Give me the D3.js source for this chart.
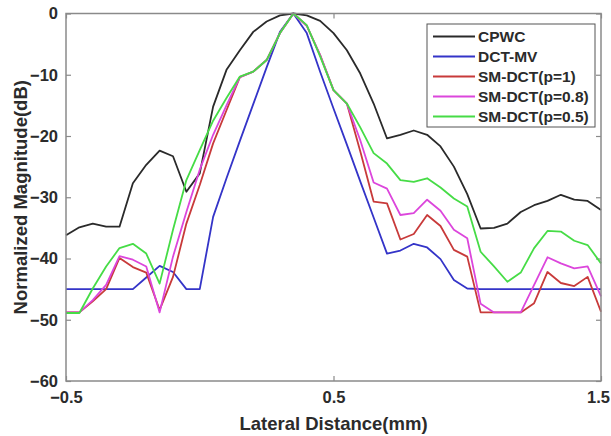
<!DOCTYPE html>
<html>
<head>
<meta charset="utf-8">
<script src="https://cdn.jsdelivr.net/npm/d3@7"></script>
<style>
  html, body { margin: 0; padding: 0; background: #fff; }
  svg { display: block; font-family: Arial, "Liberation Sans", sans-serif; }
</style>
</head>
<body>
<div id="chart"></div>
<script>
// lateral positions (mm)
const lateral = [-0.5, -0.45, -0.4, -0.35, -0.3, -0.25, -0.2, -0.15, -0.1, -0.05,
  0, 0.05, 0.1, 0.15, 0.2, 0.25, 0.3, 0.35, 0.4, 0.45,
  0.5, 0.55, 0.6, 0.65, 0.7, 0.75, 0.8, 0.85, 0.9, 0.95,
  1.0, 1.05, 1.1, 1.15, 1.2, 1.25, 1.3, 1.35, 1.4, 1.45, 1.5];

// normalized magnitude (dB) per beamformer
const cpwc = [-36.2, -34.9, -34.3, -34.8, -34.8, -27.7, -24.7, -22.4, -23.3, -29.1,
  -26.1, -15.2, -9.2, -6.0, -3.0, -1.3, -0.3, 0, -0.3, -1.2,
  -3.2, -6.0, -9.8, -14.7, -20.4, -19.8, -19.1, -19.8, -21.7, -25.0,
  -29.5, -35.1, -35.0, -34.3, -32.4, -31.3, -30.6, -29.6, -30.4, -30.6, -32.1];
const dctMv = [-45, -45, -45, -45, -45, -45, -43.1, -41.2, -42.2, -45,
  -45, -33.2, -26.9, -20.8, -14.8, -8.8, -3.0, 0, -3.2, -9.5,
  -15.5, -21.4, -27.4, -33.3, -39.2, -38.7, -37.6, -38.2, -40.1, -43.5,
  -44.9, -45, -45, -45, -45, -45, -45, -45, -45, -45, -45];
const smDct1 = [-48.8, -48.8, -47.0, -45.0, -39.9, -41.4, -42.3, -48.4, -43.0, -34.3,
  -28.0, -21.2, -15.8, -10.4, -9.5, -7.6, -3.2, 0, -2.0, -6.8,
  -12.5, -14.7, -22.5, -30.7, -31.0, -36.9, -36.0, -32.9, -34.7, -38.6,
  -39.7, -48.8, -48.8, -48.8, -48.8, -47.3, -42.2, -44.0, -44.5, -43.0, -48.7];
const smDct08 = [-48.8, -48.8, -46.8, -44.3, -39.6, -40.2, -41.3, -48.8, -39.7, -32.4,
  -25.5, -19.8, -15.0, -10.4, -9.5, -7.6, -3.2, 0, -2.0, -6.8,
  -12.5, -14.7, -20.7, -27.6, -28.6, -32.9, -32.6, -30.4, -32.2, -35.3,
  -36.7, -47.4, -48.8, -48.8, -48.8, -44.3, -39.8, -40.8, -41.6, -41.3, -46.2];
const smDct05 = [-48.9, -48.9, -44.9, -41.3, -38.3, -37.6, -39.2, -44.1, -35.3, -27.2,
  -22.3, -17.5, -13.8, -10.3, -9.5, -7.6, -3.2, 0, -1.9, -7.0,
  -12.5, -14.7, -18.6, -22.8, -24.5, -27.2, -27.5, -26.9, -28.4, -30.2,
  -31.5, -38.9, -41.3, -43.8, -42.3, -38.3, -35.5, -35.6, -37.1, -37.8, -40.8];

const seriesNames = ["CPWC", "DCT-MV", "SM-DCT(p=1)", "SM-DCT(p=0.8)", "SM-DCT(p=0.5)"];
const seriesColors = ["#2a2a2a", "#3434c8", "#c83a3a", "#dc46dc", "#46dc46"];
const seriesValues = [cpwc, dctMv, smDct1, smDct08, smDct05];

const xTicks = [-0.5, 0.5, 1.5];
const yTicks = [0, -10, -20, -30, -40, -50, -60];

const width = 611, height = 436;
const margin = { top: 13.5, right: 10, bottom: 55, left: 66 };
const innerW = width - margin.left - margin.right;
const innerH = height - margin.top - margin.bottom;

const svg = d3.select("#chart").append("svg")
  .attr("width", width)
  .attr("height", height);

const g = svg.append("g")
  .attr("transform", `translate(${margin.left},${margin.top})`);

const x = d3.scaleLinear().domain([-0.5, 1.5]).range([0, innerW]);
const y = d3.scaleLinear().domain([-60, 0]).range([innerH, 0]);

const axisColor = "#8a8a8a";
const labelColor = "#2b2b2b";

// axes with inward ticks
function styleAxis(sel, showLabels) {
  sel.select(".domain").remove();
  sel.selectAll(".tick line").attr("stroke", axisColor).attr("stroke-width", 1.2);
  sel.selectAll(".tick text")
    .attr("fill", labelColor)
    .attr("font-size", 16.5)
    .attr("font-weight", "bold")
    .style("display", showLabels ? null : "none");
}

const xAxisG = g.append("g")
  .attr("transform", `translate(0,${innerH})`)
  .call(d3.axisBottom(x).tickValues(xTicks).tickSizeInner(-5).tickPadding(10).tickFormat(d3.format(".1f")))
  .call(s => styleAxis(s, true));

// keep the last label inside the page edge
xAxisG.selectAll(".tick text")
  .filter(d => d === 1.5)
  .attr("dx", -3);

g.append("g")
  .call(d3.axisTop(x).tickValues(xTicks).tickSizeInner(-5).tickFormat(""))
  .call(s => styleAxis(s, false));

g.append("g")
  .call(d3.axisLeft(y).tickValues(yTicks).tickSizeInner(-5).tickPadding(8).tickFormat(d3.format("d")))
  .call(s => styleAxis(s, true));

g.append("g")
  .attr("transform", `translate(${innerW},0)`)
  .call(d3.axisRight(y).tickValues(yTicks).tickSizeInner(-5).tickFormat(""))
  .call(s => styleAxis(s, false));

// curves
const line = d3.line()
  .x((d, i) => x(lateral[i]))
  .y(d => y(d));

seriesValues.forEach((vals, k) => {
  g.append("path")
    .datum(vals)
    .attr("fill", "none")
    .attr("stroke", seriesColors[k])
    .attr("stroke-width", 1.8)
    .attr("stroke-linejoin", "round")
    .attr("d", line);
});

// frame
g.append("rect")
  .attr("width", innerW)
  .attr("height", innerH)
  .attr("fill", "none")
  .attr("stroke", axisColor)
  .attr("stroke-width", 1.5);

// legend
const legend = svg.append("g").attr("transform", "translate(427,24)");
legend.append("rect")
  .attr("width", 168)
  .attr("height", 103)
  .attr("fill", "#fff")
  .attr("stroke", "#555")
  .attr("stroke-width", 1);

seriesNames.forEach((name, k) => {
  const ly = 12.5 + k * 20;
  legend.append("line")
    .attr("x1", 6).attr("x2", 48)
    .attr("y1", ly).attr("y2", ly)
    .attr("stroke", seriesColors[k])
    .attr("stroke-width", 1.8);
  legend.append("text")
    .attr("x", 51)
    .attr("y", ly)
    .attr("dy", "0.36em")
    .attr("fill", labelColor)
    .attr("font-size", 15.5)
    .attr("font-weight", "bold")
    .text(name);
});

// axis titles
svg.append("text")
  .attr("x", margin.left + x(0.5))
  .attr("y", 430)
  .attr("text-anchor", "middle")
  .attr("fill", labelColor)
  .attr("font-size", 18.5)
  .attr("font-weight", "bold")
  .text("Lateral Distance(mm)");

svg.append("text")
  .attr("transform", `translate(27,${margin.top + innerH / 2}) rotate(-90)`)
  .attr("text-anchor", "middle")
  .attr("fill", labelColor)
  .attr("font-size", 18.5)
  .attr("font-weight", "bold")
  .text("Normalized Magnitude(dB)");
</script>
</body>
</html>
